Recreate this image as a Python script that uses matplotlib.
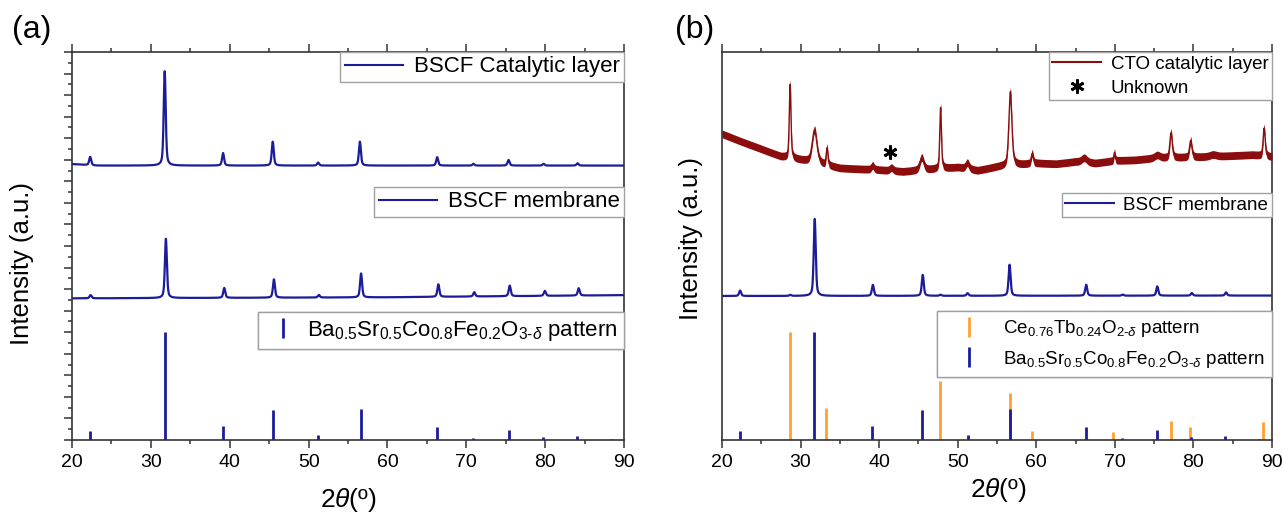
import numpy as np
import matplotlib

matplotlib.use("Agg")
import matplotlib.pyplot as plt
from matplotlib.lines import Line2D
from matplotlib.ticker import MultipleLocator

plt.rcParams["font.family"] = ["Liberation Sans", "DejaVu Sans"]
plt.rcParams["mathtext.fontset"] = "custom"
plt.rcParams["mathtext.rm"] = "Liberation Sans"
plt.rcParams["mathtext.it"] = "Liberation Sans:italic"
plt.rcParams["mathtext.bf"] = "Liberation Sans:bold"

BLUE = "#1c1c9a"
ORANGE = "#ffa033"
DARKRED = "#8c0d0d"

# ---- reference stick patterns (offset-free, same intensity units as the traces)
bscf_ref_pos = [22.3, 31.75, 39.15, 45.5, 51.25, 56.6, 66.3, 70.9, 75.35, 79.75, 84.05, 88.3]
bscf_ref_int = [0.40, 5.03, 0.65, 1.38, 0.21, 1.46, 0.61, 0.08, 0.48, 0.13, 0.17, 0.05]
cto_ref_pos = [28.65, 33.2, 47.7, 56.6, 59.4, 69.8, 77.15, 79.55, 88.9]
cto_ref_int = [5.0, 1.47, 2.72, 2.18, 0.40, 0.39, 0.87, 0.59, 0.85]

# ---- (a) BSCF catalytic layer
cat_bg_pos = [20, 23, 90]
cat_bg_lvl = [12.80, 12.73, 12.73]
cat_pos = [22.3, 31.75, 39.15, 45.45, 51.2, 56.5, 66.3, 70.9, 75.35, 79.8, 84.1]
cat_hgt = [0.39, 4.39, 0.58, 1.11, 0.14, 1.11, 0.39, 0.08, 0.26, 0.08, 0.11]

# ---- (a) BSCF membrane
mem_a_bg_pos = [20, 60, 90]
mem_a_bg_lvl = [6.57, 6.62, 6.72]
mem_a_pos = [22.35, 31.9, 39.3, 45.6, 51.3, 56.65, 66.45, 71.0, 75.5, 79.95, 84.25]
mem_a_hgt = [0.15, 2.75, 0.46, 0.85, 0.12, 1.11, 0.58, 0.20, 0.49, 0.23, 0.34]

# ---- (b) BSCF membrane
mem_b_bg_pos = [20, 90]
mem_b_bg_lvl = [6.68, 6.70]
mem_b_pos = [22.3, 28.7, 31.8, 39.2, 45.55, 47.8, 51.25, 56.6, 66.35, 71.0, 75.4, 79.8, 84.15]
mem_b_hgt = [0.25, 0.05, 3.57, 0.51, 0.97, 0.05, 0.12, 1.44, 0.51, 0.05, 0.43, 0.12, 0.15]

# ---- (b) CTO catalytic layer
cto_bg_pos = [20, 22.5, 25, 27.5, 30, 35, 40, 43, 50, 52.5, 55, 60, 62.5, 65, 67.5, 70,
              72.5, 75, 80, 82.5, 85, 87.5, 90]
cto_bg_lvl = [14.20, 13.84, 13.50, 13.15, 12.99, 12.61, 12.53, 12.45, 12.65, 12.50, 12.67,
              12.84, 12.81, 12.91, 12.84, 12.96, 12.99, 13.07, 13.12, 13.15, 13.19, 13.23, 13.13]
cto_pos = [28.67, 31.78, 33.37, 39.17, 41.57, 45.42, 47.82, 51.23, 56.7, 59.48, 66.1,
           69.95, 75.4, 77.15, 79.65, 82.5, 89.0]
cto_hgt = [3.43, 1.53, 0.79, 0.19, 0.14, 0.58, 2.83, 0.28, 3.43, 0.46, 0.21,
           0.37, 0.14, 1.16, 0.77, 0.09, 1.30]
cto_fwhm = [0.25, 0.7, 0.25, 0.4, 0.5, 0.6, 0.25, 0.5, 0.45, 0.3, 0.8,
            0.2, 0.8, 0.35, 0.35, 1.0, 0.3]
unknown_pos = (41.4, 13.34)

two_theta = np.linspace(20, 90, 3501)


def pattern(x, bg_pos, bg_lvl, pos, hgt, fwhm=0.3):
    """background + pseudo-Voigt peaks"""
    y = np.interp(x, bg_pos, bg_lvl)
    for c, h, w in zip(pos, hgt, np.broadcast_to(fwhm, len(pos))):
        d = (x - c) / (w / 2)
        y = y + h * (0.5 / (1 + d ** 2) + 0.5 * np.exp(-np.log(2) * d ** 2))
    return y


def style_axes(ax, left_ticks):
    ax.set_xlim(20, 90)
    ax.set_ylim(0, 18)
    ax.xaxis.set_major_locator(MultipleLocator(10))
    ax.xaxis.set_minor_locator(MultipleLocator(5))
    ax.yaxis.set_major_locator(MultipleLocator(1))
    ax.yaxis.set_minor_locator(MultipleLocator(0.5))
    ax.tick_params(which="both", direction="out", top=True, right=False,
                   left=left_ticks, labelleft=False, width=1.1, color="#333333")
    ax.tick_params(which="major", length=6, labelsize=14, pad=4)
    ax.tick_params(which="minor", length=3)
    for s in ax.spines.values():
        s.set_linewidth(1.2)
        s.set_color("#333333")


leg_kw = dict(frameon=True, fancybox=False, edgecolor="#a0a0a0", framealpha=1,
              borderaxespad=0, loc="upper right", borderpad=0.2,
              handletextpad=0.5, labelspacing=0.25)


def add_legend(ax, handles, labels, top, fontsize, **kw):
    opts = dict(leg_kw)
    opts.update(kw)
    leg = ax.legend(handles, labels, bbox_to_anchor=(1, top), fontsize=fontsize, **opts)
    leg.get_frame().set_linewidth(1.0)
    ax.add_artist(leg)
    return leg


bscf_label = r"Ba$_{0.5}$Sr$_{0.5}$Co$_{0.8}$Fe$_{0.2}$O$_{3\text{-}\delta}$ pattern"
cto_label = r"Ce$_{0.76}$Tb$_{0.24}$O$_{2\text{-}\delta}$ pattern"

fig = plt.figure(figsize=(12.82, 5.14), dpi=100)
ax_a = fig.add_axes([0.0562, 0.144, 0.4306, 0.7549])
ax_b = fig.add_axes([0.5632, 0.144, 0.429, 0.7549])

# (a)
ax_a.plot(two_theta, pattern(two_theta, cat_bg_pos, cat_bg_lvl, cat_pos, cat_hgt),
          color=BLUE, lw=1.6)
ax_a.plot(two_theta, pattern(two_theta, mem_a_bg_pos, mem_a_bg_lvl, mem_a_pos, mem_a_hgt),
          color=BLUE, lw=1.6)
ax_a.vlines(bscf_ref_pos, 0, bscf_ref_int, color=BLUE, lw=2)
style_axes(ax_a, left_ticks=True)

line_h = Line2D([], [], color=BLUE, lw=1.5)
stick_h = Line2D([], [], color=BLUE, marker="|", ls="None", ms=15, mew=2)
add_legend(ax_a, [line_h], ["BSCF Catalytic layer"], 1.0, 16, handlelength=2.6)
add_legend(ax_a, [line_h], ["BSCF membrane"], 0.652, 16, handlelength=2.6)
add_legend(ax_a, [stick_h], [bscf_label], 0.330, 16, handlelength=1.6, handletextpad=0.3,
           borderpad=0.3)

ax_a.set_xlabel(r"2$\theta$(º)", fontsize=19)
ax_a.set_ylabel("Intensity (a.u.)", fontsize=18.5)
ax_a.xaxis.set_label_coords(0.501, -0.118)
ax_a.yaxis.set_label_coords(-0.069, 0.454)

# (b)
cto_y = pattern(two_theta, cto_bg_pos, cto_bg_lvl, cto_pos, cto_hgt, cto_fwhm)
ax_b.fill_between(two_theta, cto_y - 0.18, cto_y + 0.18, color=DARKRED, lw=0)
ax_b.plot(two_theta, cto_y, color=DARKRED, lw=1.0)
ax_b.plot(*unknown_pos, ls="None", marker=(6, 2, 0), ms=10, mew=2, color="black")
ax_b.plot(two_theta, pattern(two_theta, mem_b_bg_pos, mem_b_bg_lvl, mem_b_pos, mem_b_hgt),
          color=BLUE, lw=1.6)
ax_b.vlines(cto_ref_pos, 0, cto_ref_int, color=ORANGE, lw=2)
ax_b.vlines(bscf_ref_pos, 0, bscf_ref_int, color=BLUE, lw=2)
style_axes(ax_b, left_ticks=False)

cto_h = Line2D([], [], color=DARKRED, lw=1.5)
star_h = Line2D([], [], color="black", marker=(6, 2, 0), ls="None", ms=10, mew=2)
orange_h = Line2D([], [], color=ORANGE, marker="|", ls="None", ms=15, mew=2)
add_legend(ax_b, [cto_h, star_h], ["CTO catalytic layer", "Unknown"], 1.0, 13.5,
           handlelength=2.6, labelspacing=0.35)
add_legend(ax_b, [line_h], ["BSCF membrane"], 0.637, 13.5, handlelength=2.6)
add_legend(ax_b, [orange_h, stick_h], [cto_label, bscf_label], 0.3325, 13.5,
           handlelength=2.6, borderpad=0.4, labelspacing=0.5)

ax_b.set_xlabel(r"2$\theta$(º)", fontsize=19)
ax_b.set_ylabel("Intensity (a.u.)", fontsize=18.5)
ax_b.xaxis.set_label_coords(0.503, -0.092)
ax_b.yaxis.set_label_coords(-0.035, 0.52)

fig.text(0.025, 0.942, "(a)", fontsize=23, ha="center", va="center")
fig.text(0.542, 0.942, "(b)", fontsize=23, ha="center", va="center")

fig.savefig("out.png", dpi=100)
